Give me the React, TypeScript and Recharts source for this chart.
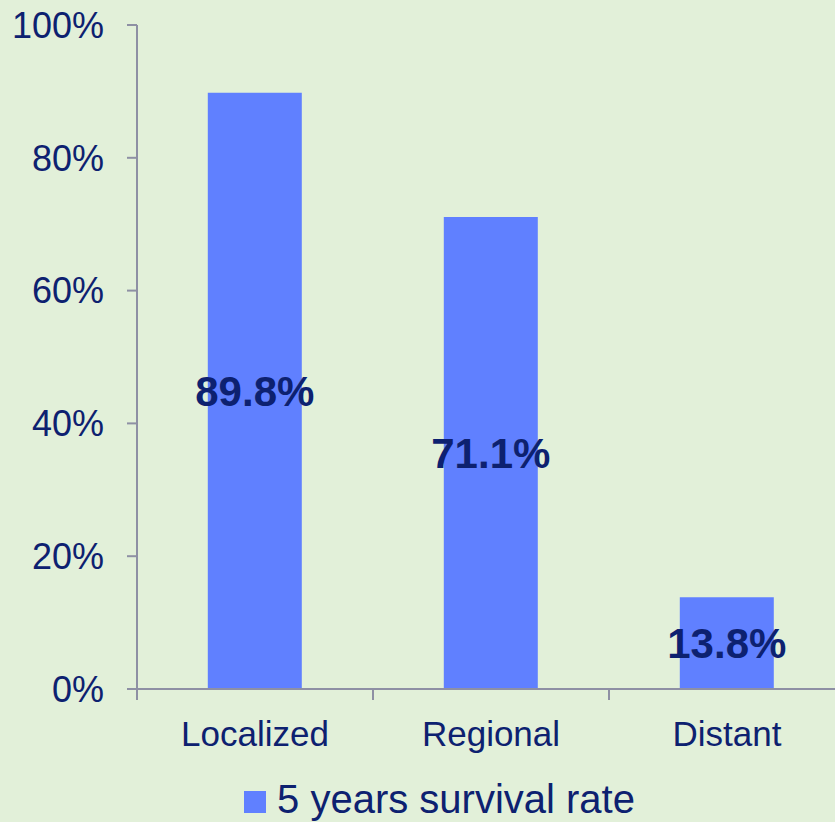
import React from "react";
import {Bar, BarChart, LabelList, Legend, XAxis, YAxis} from "recharts";

const stages = ["Localized", "Regional", "Distant"];
const survival = [89.8, 71.1, 13.8];
const yTicks = [0, 20, 40, 60, 80, 100];

const data = stages.map((name, i) => ({name, survival: survival[i]}));

const ink = "#0d2170";
const axisGrey = "#8e90a4";
const font = "'Liberation Sans', Arial, sans-serif";
const xTickGap = 26;
const xTickSize = 6;

// category label plus a tick mark on the left edge of the band
const StageTick = (props: any) => {
    const {x, y, payload} = props;
    const edge = x - (payload.offset || 0);
    const axisY = y - xTickGap - xTickSize;
    return <g>
        <line x1={edge} x2={edge} y1={axisY} y2={axisY + 11} stroke={axisGrey} strokeWidth={2} />
        <text x={x} y={y} dy="0.71em" textAnchor="middle" fill={ink} fontSize={35}
              fontFamily={font}>{payload.value}</text>
    </g>
}

const App: React.FC = () => {
    return <div style={{position: "absolute", left: 0, top: 0, width: 835, height: 822,
                        overflow: "hidden", background: "#e2f0d9", fontFamily: font}}>
        <BarChart width={845} height={822} data={data} barCategoryGap="30%"
                  margin={{top: 25, right: 0, left: 0, bottom: 0}}>
            <XAxis dataKey="name" tickLine={false} height={88} tickSize={xTickSize}
                   tickMargin={xTickGap} tick={<StageTick />} stroke={axisGrey} strokeWidth={2} />
            <YAxis domain={[0, 100]} ticks={yTicks} width={137} tickSize={10} tickMargin={23}
                   tickFormatter={(v: number) => v + "%"} stroke={axisGrey} strokeWidth={2}
                   tick={{fill: ink, fontSize: 36, fontFamily: font}} />
            <Legend verticalAlign="bottom" iconType="square" iconSize={22}
                    wrapperStyle={{fontSize: 40, color: ink, fontFamily: font, lineHeight: "45px", left: 22}}
                    formatter={(value: string) => <span style={{color: ink, paddingLeft: 7}}>{value}</span>} />
            <Bar dataKey="survival" name="5 years survival rate" fill="#6080ff"
                 isAnimationActive={false}>
                <LabelList dataKey="survival" position="center"
                           formatter={(v: number) => v.toFixed(1) + "%"}
                           style={{fill: ink, fontSize: 42, fontWeight: "bold", fontFamily: font}} />
            </Bar>
        </BarChart>
    </div>
}

export default App;
